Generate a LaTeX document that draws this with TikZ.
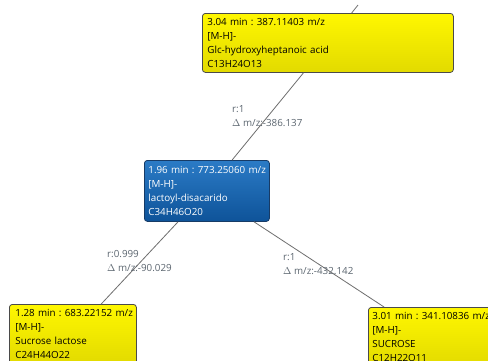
\documentclass[tikz,border=0pt]{standalone}
\usepackage{fontspec}
\setmainfont{Open Sans}
\frenchspacing
\definecolor{ytop}{HTML}{FFF700}
\definecolor{ybot}{HTML}{E2DA00}
\definecolor{yedge}{HTML}{4A4A4A}
\definecolor{btop}{HTML}{2B7BC6}
\definecolor{bbot}{HTML}{0E5399}
\definecolor{bedge}{HTML}{173B66}
\definecolor{edgecol}{HTML}{6E6E6E}
\definecolor{labcol}{HTML}{5C6670}
\begin{document}
\begin{tikzpicture}[x=1pt,y=-1pt,
  box/.style={rounded corners=3pt, line width=0.8pt, align=left, inner xsep=5pt, inner ysep=0pt,
    font=\fontsize{9.8}{14}\selectfont, anchor=north west},
  ybox/.style={box, top color=ytop, bottom color=ybot, draw=yedge, text=black},
  bbox/.style={box, top color=btop, bottom color=bbot, draw=bedge, text=white},
  edge/.style={draw=edgecol, line width=0.8pt},
  lab/.style={text=labcol, align=left, anchor=west, inner sep=0pt, font=\fontsize{9.8}{14}\selectfont}]
\clip (0,0) rectangle (488,360);
\fill[white] (0,0) rectangle (488,360);
\node[ybox, text width=241pt, minimum height=59pt] (top) at (202,13)
  {\mbox{3.04 min : 387.11403 m/z}\\{}[M-H]-\\\mbox{Glc-hydroxyheptanoic acid}\\C13H24O13};
\node[bbox, text width=117pt, inner xsep=4pt, minimum height=61pt] (mid) at (144,160)
  {\mbox{1.96 min : 773.25060 m/z}\\{}[M-H]-\\lactoyl-disacarido\\C34H46O20};
\node[ybox, text width=115pt, inner xsep=6pt, minimum height=60pt] (bl) at (9,304)
  {\mbox{1.28 min : 683.22152 m/z}\\{}[M-H]-\\Sucrose lactose\\C24H44O22};
\node[ybox, text width=116pt, inner xsep=4pt, minimum height=60pt] (br) at (368,307)
  {\mbox{3.01 min : 341.10836 m/z}\\{}[M-H]-\\SUCROSE\\C12H22O11};
\coordinate (ext) at (358,5);
\draw[edge] (mid) -- (top);
\draw[edge] (mid) -- (bl);
\draw[edge] (mid) -- (br);
\draw[edge] (top) -- (ext);
\node[lab] (l1) at (232,116.5) {r:1\\$\Delta$ m/z:-386.137};
\node[lab] (l2) at (107,261.5) {r:0.999\\$\Delta$ m/z:-90.029};
\node[lab] (l3) at (283,264) {r:1\\$\Delta$ m/z:-432.142};
\end{tikzpicture}
\end{document}
